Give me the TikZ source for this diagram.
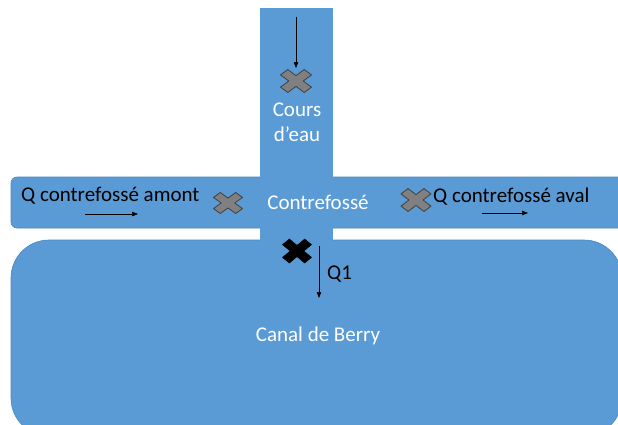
\documentclass[tikz,border=0pt]{standalone}
\usepackage{fontspec}
\setmainfont{Carlito}
\usetikzlibrary{arrows.meta}
\definecolor{water}{HTML}{5B9BD5}
\definecolor{wedge}{HTML}{4A86BF}
\definecolor{crossgray}{HTML}{808080}
\definecolor{crossedge}{HTML}{404040}
\tikzset{
  waterbody/.style={fill=water, draw=wedge, line width=0.6pt},
  waterfill/.style={fill=water, draw=none},
  lbl/.style={inner sep=0pt, font=\fontsize{21}{26}\selectfont},
  whitelbl/.style={lbl, text=white},
  flow/.style={-{Triangle[length=6pt,width=4.5pt]}, line width=0.6pt, black},
  pics/xmark/.style={code={
    \path[pic actions] (0,0.467) -- (0.53,1) -- (1,0.53) -- (0.467,0) -- (1,-0.53)
      -- (0.53,-1) -- (0,-0.467) -- (-0.53,-1) -- (-1,-0.53) -- (-0.467,0)
      -- (-1,0.53) -- (-0.53,1) -- cycle;
  }},
  graycross/.style={fill=crossgray, draw=crossedge, line width=0.8pt, line join=round},
  blackcross/.style={fill=black, draw=black, line width=0.5pt},
}
\begin{document}
\begin{tikzpicture}[x=1pt, y=-1pt]
\useasboundingbox (0,0) rectangle (618,424);
\clip (0,0) rectangle (618,424);
% water bodies
\draw[waterbody, rounded corners=38pt] (11,240) rectangle (622,436);
\draw[waterbody, rounded corners=6pt] (11,177) rectangle (630,228);
\fill[waterfill] (260,8) rectangle (333,243);
% labels
\node[whitelbl, anchor=base] (cours) at (297,116) {Cours};
\node[whitelbl, anchor=base] (deau) at (297,141) {d’eau};
\node[whitelbl, anchor=base] (contre) at (318,209) {Contrefossé};
\node[whitelbl, anchor=base] (canal) at (318,341) {Canal de Berry};
\node[lbl, anchor=base west] (qamont) at (21,201) {Q contrefossé amont};
\node[lbl, anchor=base west] (qaval) at (433,202) {Q contrefossé aval};
\node[lbl, anchor=base west] (q1) at (327,279) {Q1};
% crosses
\coordinate (xc) at (296,81);
\coordinate (xam) at (228,203);
\coordinate (xav) at (416,200);
\coordinate (xq) at (297,251);
\pic[graycross, xscale=15.5, yscale=11.5] at (xc) {xmark};
\pic[graycross, xscale=14.5, yscale=10.5] at (xam) {xmark};
\pic[graycross, xscale=15, yscale=11.5] at (xav) {xmark};
\pic[blackcross, xscale=14.5, yscale=12] at (xq) {xmark};
% flow arrows
\coordinate (a1s) at (296,17);
\coordinate (a1e) at (296,68);
\coordinate (a2s) at (85,214);
\coordinate (a2e) at (138,214);
\coordinate (a3s) at (482,213);
\coordinate (a3e) at (528,213);
\coordinate (a4s) at (319,246);
\coordinate (a4e) at (319,298);
\draw[flow] (a1s) -- (a1e);
\draw[flow] (a2s) -- (a2e);
\draw[flow] (a3s) -- (a3e);
\draw[flow] (a4s) -- (a4e);
\end{tikzpicture}
\end{document}
